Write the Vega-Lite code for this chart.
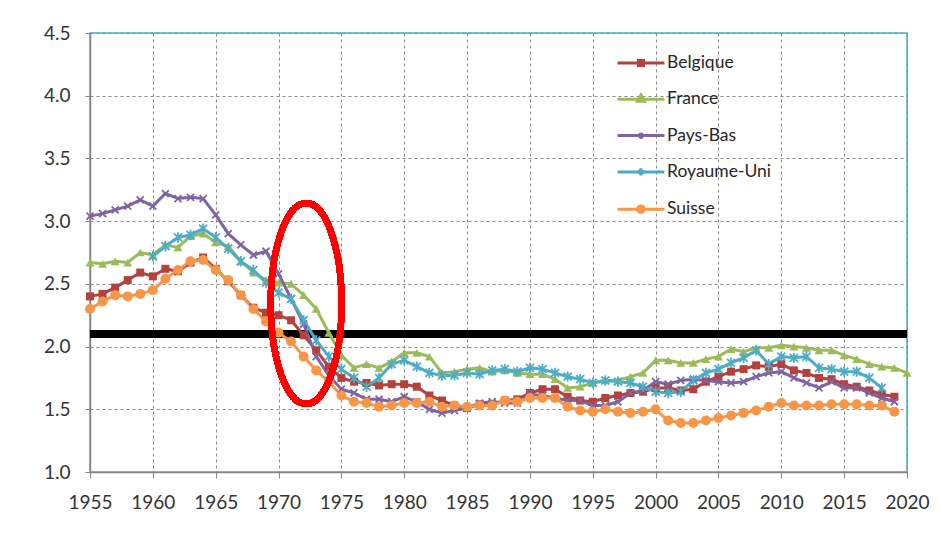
{
"$schema":"https://vega.github.io/schema/vega-lite/v6.json",
"width":817,"height":439,
"autosize":{"type":"none"},
"padding":{"left":90,"top":33,"right":33,"bottom":61},
"background":"white",
"config":{"font":"Lato","view":{"stroke":"#4BACC6","strokeWidth":1.5}},
"datasets":{"tfr":[
{"c":"Belgique","y":1955,"v":2.40},{"c":"Belgique","y":1956,"v":2.42},{"c":"Belgique","y":1957,"v":2.47},{"c":"Belgique","y":1958,"v":2.53},{"c":"Belgique","y":1959,"v":2.59},{"c":"Belgique","y":1960,"v":2.56},{"c":"Belgique","y":1961,"v":2.62},{"c":"Belgique","y":1962,"v":2.60},{"c":"Belgique","y":1963,"v":2.67},{"c":"Belgique","y":1964,"v":2.71},
{"c":"Belgique","y":1965,"v":2.62},{"c":"Belgique","y":1966,"v":2.52},{"c":"Belgique","y":1967,"v":2.41},{"c":"Belgique","y":1968,"v":2.31},{"c":"Belgique","y":1969,"v":2.27},{"c":"Belgique","y":1970,"v":2.25},{"c":"Belgique","y":1971,"v":2.21},{"c":"Belgique","y":1972,"v":2.09},{"c":"Belgique","y":1973,"v":1.97},{"c":"Belgique","y":1974,"v":1.84},
{"c":"Belgique","y":1975,"v":1.75},{"c":"Belgique","y":1976,"v":1.72},{"c":"Belgique","y":1977,"v":1.71},{"c":"Belgique","y":1978,"v":1.69},{"c":"Belgique","y":1979,"v":1.70},{"c":"Belgique","y":1980,"v":1.70},{"c":"Belgique","y":1981,"v":1.68},{"c":"Belgique","y":1982,"v":1.61},{"c":"Belgique","y":1983,"v":1.57},{"c":"Belgique","y":1984,"v":1.53},
{"c":"Belgique","y":1985,"v":1.51},{"c":"Belgique","y":1986,"v":1.54},{"c":"Belgique","y":1987,"v":1.54},{"c":"Belgique","y":1988,"v":1.57},{"c":"Belgique","y":1989,"v":1.58},{"c":"Belgique","y":1990,"v":1.63},{"c":"Belgique","y":1991,"v":1.66},{"c":"Belgique","y":1992,"v":1.66},{"c":"Belgique","y":1993,"v":1.60},{"c":"Belgique","y":1994,"v":1.57},
{"c":"Belgique","y":1995,"v":1.56},{"c":"Belgique","y":1996,"v":1.59},{"c":"Belgique","y":1997,"v":1.61},{"c":"Belgique","y":1998,"v":1.63},{"c":"Belgique","y":1999,"v":1.64},{"c":"Belgique","y":2000,"v":1.67},{"c":"Belgique","y":2001,"v":1.67},{"c":"Belgique","y":2002,"v":1.65},{"c":"Belgique","y":2003,"v":1.66},{"c":"Belgique","y":2004,"v":1.72},
{"c":"Belgique","y":2005,"v":1.76},{"c":"Belgique","y":2006,"v":1.80},{"c":"Belgique","y":2007,"v":1.82},{"c":"Belgique","y":2008,"v":1.85},{"c":"Belgique","y":2009,"v":1.84},{"c":"Belgique","y":2010,"v":1.86},{"c":"Belgique","y":2011,"v":1.81},{"c":"Belgique","y":2012,"v":1.79},{"c":"Belgique","y":2013,"v":1.75},{"c":"Belgique","y":2014,"v":1.74},
{"c":"Belgique","y":2015,"v":1.70},{"c":"Belgique","y":2016,"v":1.68},{"c":"Belgique","y":2017,"v":1.65},{"c":"Belgique","y":2018,"v":1.62},{"c":"Belgique","y":2019,"v":1.60},
{"c":"France","y":1955,"v":2.67},{"c":"France","y":1956,"v":2.66},{"c":"France","y":1957,"v":2.68},{"c":"France","y":1958,"v":2.67},{"c":"France","y":1959,"v":2.75},{"c":"France","y":1960,"v":2.73},{"c":"France","y":1961,"v":2.81},{"c":"France","y":1962,"v":2.79},{"c":"France","y":1963,"v":2.88},{"c":"France","y":1964,"v":2.90},
{"c":"France","y":1965,"v":2.83},{"c":"France","y":1966,"v":2.80},{"c":"France","y":1967,"v":2.68},{"c":"France","y":1968,"v":2.59},{"c":"France","y":1969,"v":2.53},{"c":"France","y":1970,"v":2.51},{"c":"France","y":1971,"v":2.50},{"c":"France","y":1972,"v":2.41},{"c":"France","y":1973,"v":2.30},{"c":"France","y":1974,"v":2.11},
{"c":"France","y":1975,"v":1.93},{"c":"France","y":1976,"v":1.83},{"c":"France","y":1977,"v":1.86},{"c":"France","y":1978,"v":1.83},{"c":"France","y":1979,"v":1.88},{"c":"France","y":1980,"v":1.95},{"c":"France","y":1981,"v":1.95},{"c":"France","y":1982,"v":1.92},{"c":"France","y":1983,"v":1.79},{"c":"France","y":1984,"v":1.80},
{"c":"France","y":1985,"v":1.82},{"c":"France","y":1986,"v":1.83},{"c":"France","y":1987,"v":1.80},{"c":"France","y":1988,"v":1.81},{"c":"France","y":1989,"v":1.79},{"c":"France","y":1990,"v":1.78},{"c":"France","y":1991,"v":1.78},{"c":"France","y":1992,"v":1.74},{"c":"France","y":1993,"v":1.67},{"c":"France","y":1994,"v":1.68},
{"c":"France","y":1995,"v":1.71},{"c":"France","y":1996,"v":1.73},{"c":"France","y":1997,"v":1.73},{"c":"France","y":1998,"v":1.76},{"c":"France","y":1999,"v":1.79},{"c":"France","y":2000,"v":1.89},{"c":"France","y":2001,"v":1.89},{"c":"France","y":2002,"v":1.87},{"c":"France","y":2003,"v":1.87},{"c":"France","y":2004,"v":1.90},
{"c":"France","y":2005,"v":1.92},{"c":"France","y":2006,"v":1.98},{"c":"France","y":2007,"v":1.96},{"c":"France","y":2008,"v":1.99},{"c":"France","y":2009,"v":1.99},{"c":"France","y":2010,"v":2.01},{"c":"France","y":2011,"v":2.00},{"c":"France","y":2012,"v":1.99},{"c":"France","y":2013,"v":1.97},{"c":"France","y":2014,"v":1.97},
{"c":"France","y":2015,"v":1.93},{"c":"France","y":2016,"v":1.90},{"c":"France","y":2017,"v":1.86},{"c":"France","y":2018,"v":1.84},{"c":"France","y":2019,"v":1.83},{"c":"France","y":2020,"v":1.79},
{"c":"Pays-Bas","y":1955,"v":3.04},{"c":"Pays-Bas","y":1956,"v":3.06},{"c":"Pays-Bas","y":1957,"v":3.09},{"c":"Pays-Bas","y":1958,"v":3.12},{"c":"Pays-Bas","y":1959,"v":3.17},{"c":"Pays-Bas","y":1960,"v":3.12},{"c":"Pays-Bas","y":1961,"v":3.22},{"c":"Pays-Bas","y":1962,"v":3.18},{"c":"Pays-Bas","y":1963,"v":3.19},{"c":"Pays-Bas","y":1964,"v":3.18},
{"c":"Pays-Bas","y":1965,"v":3.05},{"c":"Pays-Bas","y":1966,"v":2.90},{"c":"Pays-Bas","y":1967,"v":2.81},{"c":"Pays-Bas","y":1968,"v":2.73},{"c":"Pays-Bas","y":1969,"v":2.76},{"c":"Pays-Bas","y":1970,"v":2.58},{"c":"Pays-Bas","y":1971,"v":2.38},{"c":"Pays-Bas","y":1972,"v":2.18},{"c":"Pays-Bas","y":1973,"v":1.92},{"c":"Pays-Bas","y":1974,"v":1.77},
{"c":"Pays-Bas","y":1975,"v":1.66},{"c":"Pays-Bas","y":1976,"v":1.63},{"c":"Pays-Bas","y":1977,"v":1.58},{"c":"Pays-Bas","y":1978,"v":1.58},{"c":"Pays-Bas","y":1979,"v":1.56},{"c":"Pays-Bas","y":1980,"v":1.60},{"c":"Pays-Bas","y":1981,"v":1.56},{"c":"Pays-Bas","y":1982,"v":1.50},{"c":"Pays-Bas","y":1983,"v":1.47},{"c":"Pays-Bas","y":1984,"v":1.49},
{"c":"Pays-Bas","y":1985,"v":1.51},{"c":"Pays-Bas","y":1986,"v":1.55},{"c":"Pays-Bas","y":1987,"v":1.56},{"c":"Pays-Bas","y":1988,"v":1.55},{"c":"Pays-Bas","y":1989,"v":1.55},{"c":"Pays-Bas","y":1990,"v":1.62},{"c":"Pays-Bas","y":1991,"v":1.61},{"c":"Pays-Bas","y":1992,"v":1.59},{"c":"Pays-Bas","y":1993,"v":1.57},{"c":"Pays-Bas","y":1994,"v":1.57},
{"c":"Pays-Bas","y":1995,"v":1.53},{"c":"Pays-Bas","y":1996,"v":1.53},{"c":"Pays-Bas","y":1997,"v":1.56},{"c":"Pays-Bas","y":1998,"v":1.63},{"c":"Pays-Bas","y":1999,"v":1.65},{"c":"Pays-Bas","y":2000,"v":1.72},{"c":"Pays-Bas","y":2001,"v":1.70},{"c":"Pays-Bas","y":2002,"v":1.73},{"c":"Pays-Bas","y":2003,"v":1.74},{"c":"Pays-Bas","y":2004,"v":1.73},
{"c":"Pays-Bas","y":2005,"v":1.72},{"c":"Pays-Bas","y":2006,"v":1.71},{"c":"Pays-Bas","y":2007,"v":1.72},{"c":"Pays-Bas","y":2008,"v":1.76},{"c":"Pays-Bas","y":2009,"v":1.79},{"c":"Pays-Bas","y":2010,"v":1.80},{"c":"Pays-Bas","y":2011,"v":1.75},{"c":"Pays-Bas","y":2012,"v":1.71},{"c":"Pays-Bas","y":2013,"v":1.67},{"c":"Pays-Bas","y":2014,"v":1.72},
{"c":"Pays-Bas","y":2015,"v":1.67},{"c":"Pays-Bas","y":2016,"v":1.67},{"c":"Pays-Bas","y":2017,"v":1.63},{"c":"Pays-Bas","y":2018,"v":1.59},{"c":"Pays-Bas","y":2019,"v":1.56},
{"c":"Royaume-Uni","y":1960,"v":2.72},{"c":"Royaume-Uni","y":1961,"v":2.80},{"c":"Royaume-Uni","y":1962,"v":2.87},{"c":"Royaume-Uni","y":1963,"v":2.89},{"c":"Royaume-Uni","y":1964,"v":2.94},
{"c":"Royaume-Uni","y":1965,"v":2.87},{"c":"Royaume-Uni","y":1966,"v":2.78},{"c":"Royaume-Uni","y":1967,"v":2.68},{"c":"Royaume-Uni","y":1968,"v":2.61},{"c":"Royaume-Uni","y":1969,"v":2.51},{"c":"Royaume-Uni","y":1970,"v":2.43},{"c":"Royaume-Uni","y":1971,"v":2.38},{"c":"Royaume-Uni","y":1972,"v":2.21},{"c":"Royaume-Uni","y":1973,"v":2.05},{"c":"Royaume-Uni","y":1974,"v":1.92},
{"c":"Royaume-Uni","y":1975,"v":1.82},{"c":"Royaume-Uni","y":1976,"v":1.75},{"c":"Royaume-Uni","y":1977,"v":1.68},{"c":"Royaume-Uni","y":1978,"v":1.75},{"c":"Royaume-Uni","y":1979,"v":1.86},{"c":"Royaume-Uni","y":1980,"v":1.89},{"c":"Royaume-Uni","y":1981,"v":1.84},{"c":"Royaume-Uni","y":1982,"v":1.79},{"c":"Royaume-Uni","y":1983,"v":1.77},{"c":"Royaume-Uni","y":1984,"v":1.77},
{"c":"Royaume-Uni","y":1985,"v":1.79},{"c":"Royaume-Uni","y":1986,"v":1.78},{"c":"Royaume-Uni","y":1987,"v":1.81},{"c":"Royaume-Uni","y":1988,"v":1.82},{"c":"Royaume-Uni","y":1989,"v":1.80},{"c":"Royaume-Uni","y":1990,"v":1.83},{"c":"Royaume-Uni","y":1991,"v":1.82},{"c":"Royaume-Uni","y":1992,"v":1.79},{"c":"Royaume-Uni","y":1993,"v":1.76},{"c":"Royaume-Uni","y":1994,"v":1.74},
{"c":"Royaume-Uni","y":1995,"v":1.71},{"c":"Royaume-Uni","y":1996,"v":1.73},{"c":"Royaume-Uni","y":1997,"v":1.72},{"c":"Royaume-Uni","y":1998,"v":1.71},{"c":"Royaume-Uni","y":1999,"v":1.68},{"c":"Royaume-Uni","y":2000,"v":1.64},{"c":"Royaume-Uni","y":2001,"v":1.63},{"c":"Royaume-Uni","y":2002,"v":1.64},{"c":"Royaume-Uni","y":2003,"v":1.73},{"c":"Royaume-Uni","y":2004,"v":1.79},
{"c":"Royaume-Uni","y":2005,"v":1.82},{"c":"Royaume-Uni","y":2006,"v":1.87},{"c":"Royaume-Uni","y":2007,"v":1.91},{"c":"Royaume-Uni","y":2008,"v":1.97},{"c":"Royaume-Uni","y":2009,"v":1.86},{"c":"Royaume-Uni","y":2010,"v":1.92},{"c":"Royaume-Uni","y":2011,"v":1.91},{"c":"Royaume-Uni","y":2012,"v":1.92},{"c":"Royaume-Uni","y":2013,"v":1.83},{"c":"Royaume-Uni","y":2014,"v":1.82},
{"c":"Royaume-Uni","y":2015,"v":1.80},{"c":"Royaume-Uni","y":2016,"v":1.80},{"c":"Royaume-Uni","y":2017,"v":1.75},{"c":"Royaume-Uni","y":2018,"v":1.67},
{"c":"Suisse","y":1955,"v":2.30},{"c":"Suisse","y":1956,"v":2.36},{"c":"Suisse","y":1957,"v":2.41},{"c":"Suisse","y":1958,"v":2.40},{"c":"Suisse","y":1959,"v":2.42},{"c":"Suisse","y":1960,"v":2.45},{"c":"Suisse","y":1961,"v":2.54},{"c":"Suisse","y":1962,"v":2.61},{"c":"Suisse","y":1963,"v":2.68},{"c":"Suisse","y":1964,"v":2.69},
{"c":"Suisse","y":1965,"v":2.61},{"c":"Suisse","y":1966,"v":2.53},{"c":"Suisse","y":1967,"v":2.41},{"c":"Suisse","y":1968,"v":2.30},{"c":"Suisse","y":1969,"v":2.20},{"c":"Suisse","y":1970,"v":2.11},{"c":"Suisse","y":1971,"v":2.04},{"c":"Suisse","y":1972,"v":1.92},{"c":"Suisse","y":1973,"v":1.81},{"c":"Suisse","y":1974,"v":1.72},
{"c":"Suisse","y":1975,"v":1.61},{"c":"Suisse","y":1976,"v":1.56},{"c":"Suisse","y":1977,"v":1.55},{"c":"Suisse","y":1978,"v":1.52},{"c":"Suisse","y":1979,"v":1.53},{"c":"Suisse","y":1980,"v":1.55},{"c":"Suisse","y":1981,"v":1.55},{"c":"Suisse","y":1982,"v":1.56},{"c":"Suisse","y":1983,"v":1.52},{"c":"Suisse","y":1984,"v":1.53},
{"c":"Suisse","y":1985,"v":1.52},{"c":"Suisse","y":1986,"v":1.53},{"c":"Suisse","y":1987,"v":1.53},{"c":"Suisse","y":1988,"v":1.57},{"c":"Suisse","y":1989,"v":1.56},{"c":"Suisse","y":1990,"v":1.59},{"c":"Suisse","y":1991,"v":1.59},{"c":"Suisse","y":1992,"v":1.59},{"c":"Suisse","y":1993,"v":1.52},{"c":"Suisse","y":1994,"v":1.49},
{"c":"Suisse","y":1995,"v":1.48},{"c":"Suisse","y":1996,"v":1.50},{"c":"Suisse","y":1997,"v":1.48},{"c":"Suisse","y":1998,"v":1.47},{"c":"Suisse","y":1999,"v":1.48},{"c":"Suisse","y":2000,"v":1.50},{"c":"Suisse","y":2001,"v":1.41},{"c":"Suisse","y":2002,"v":1.39},{"c":"Suisse","y":2003,"v":1.39},{"c":"Suisse","y":2004,"v":1.41},
{"c":"Suisse","y":2005,"v":1.43},{"c":"Suisse","y":2006,"v":1.45},{"c":"Suisse","y":2007,"v":1.47},{"c":"Suisse","y":2008,"v":1.49},{"c":"Suisse","y":2009,"v":1.52},{"c":"Suisse","y":2010,"v":1.55},{"c":"Suisse","y":2011,"v":1.53},{"c":"Suisse","y":2012,"v":1.53},{"c":"Suisse","y":2013,"v":1.53},{"c":"Suisse","y":2014,"v":1.54},
{"c":"Suisse","y":2015,"v":1.54},{"c":"Suisse","y":2016,"v":1.54},{"c":"Suisse","y":2017,"v":1.53},{"c":"Suisse","y":2018,"v":1.53},{"c":"Suisse","y":2019,"v":1.48}
]},
"data":{"name":"tfr"},
"encoding":{
 "x":{"field":"y","type":"quantitative","scale":{"domain":[1955,2020],"nice":false,"zero":false},
  "axis":{"title":null,"values":[1955,1960,1965,1970,1975,1980,1985,1990,1995,2000,2005,2010,2015,2020],"format":"d","labelFontSize":19,"labelColor":"#333333","labelPadding":15,"tickSize":6,"tickColor":"#868686","domainColor":"#868686","domainWidth":1.5,"grid":true,"gridDash":[3,3],"gridColor":"#8a8a8a","gridWidth":1,"labelFlush":false}},
 "y":{"field":"v","type":"quantitative","scale":{"domain":[1,4.5],"nice":false,"zero":false},
  "axis":{"title":null,"values":[1,1.5,2,2.5,3,3.5,4,4.5],"format":".1f","labelFontSize":19,"labelColor":"#333333","labelPadding":15,"tickSize":5,"tickColor":"#868686","domainColor":"#868686","domainWidth":1.5,"grid":true,"gridDash":[3,3],"gridColor":"#8a8a8a","gridWidth":1,"labelFlush":false}}
},
"layer":[
 {"mark":{"type":"rule","color":"black","strokeWidth":7},"encoding":{"y":{"datum":2.1},"x":null}},
 {"mark":{"type":"line","strokeWidth":3},
  "encoding":{"color":{"field":"c","type":"nominal","scale":{"range":["#B3413E","#9BBB59","#8064A2","#4BACC6","#F79646"]},"legend":null}}},
 {"transform":[{"filter":"datum.c == 'Belgique'"}],"mark":{"type":"point","shape":"square","filled":true,"size":64,"opacity":1,"color":"#B3413E"}},
 {"transform":[{"filter":"datum.c == 'France'"}],"mark":{"type":"point","shape":"triangle-up","filled":true,"size":80,"opacity":1,"color":"#9BBB59"}},
 {"transform":[{"filter":"datum.c == 'Pays-Bas'"}],"mark":{"type":"point","shape":"M-1,-1L1,1M1,-1L-1,1","filled":false,"size":49,"strokeWidth":1.8,"opacity":1,"color":"#8064A2"}},
 {"transform":[{"filter":"datum.c == 'Royaume-Uni'"}],"mark":{"type":"point","shape":"M-1,-1L1,1M1,-1L-1,1M0,-1.3V1.3","filled":false,"size":64,"strokeWidth":1.8,"opacity":1,"color":"#4BACC6"}},
 {"transform":[{"filter":"datum.c == 'Suisse'"}],"mark":{"type":"point","shape":"circle","filled":true,"size":100,"opacity":1,"color":"#F79646"}},
 {"transform":[{"filter":"datum.y < 0"}],"mark":{"type":"point","filled":true,"size":353,"strokeWidth":3},
  "encoding":{
   "fill":{"field":"c","type":"nominal","scale":{"domain":["Belgique","France","Pays-Bas","Royaume-Uni","Suisse"],"range":["#B3413E","#9BBB59","#8064A2","#4BACC6","#F79646"]},
    "legend":{"orient":"none","legendX":540,"legendY":19,"title":null,"labelFontSize":17.5,"labelColor":"#262626","labelOffset":15,"rowPadding":16.3,"padding":0,"symbolSize":353,"symbolStrokeWidth":3,"symbolFillColor":"#000000","symbolStrokeColor":"#000000","symbolOpacity":1}},
   "stroke":{"field":"c","type":"nominal","scale":{"domain":["Belgique","France","Pays-Bas","Royaume-Uni","Suisse"],"range":["#B3413E","#9BBB59","#8064A2","#4BACC6","#F79646"]},
    "legend":{"orient":"none","legendX":540,"legendY":19,"title":null,"labelFontSize":17.5,"labelColor":"#262626","labelOffset":15,"rowPadding":16.3,"padding":0,"symbolSize":353,"symbolStrokeWidth":3,"symbolFillColor":"#000000","symbolStrokeColor":"#000000","symbolOpacity":1}},
   "shape":{"field":"c","type":"nominal","scale":{"domain":["Belgique","France","Pays-Bas","Royaume-Uni","Suisse"],"range":[
     "M-2.5,0H2.5M-0.27,-0.27H0.27V0.27H-0.27Z",
     "M-2.5,0H2.5M0,-0.45L0.38,0.22H-0.38Z",
     "M-2.5,0H2.5M-0.2,-0.25L0.2,0.25M0.2,-0.25L-0.2,0.25",
     "M-2.5,0H2.5M-0.22,-0.25L0.22,0.25M0.22,-0.25L-0.22,0.25M0,-0.38V0.38",
     "M-2.5,0H2.5M0.35,0A0.35,0.35,0,1,1,-0.35,0A0.35,0.35,0,1,1,0.35,0Z"]},
    "legend":{"orient":"none","legendX":540,"legendY":19,"title":null,"labelFontSize":17.5,"labelColor":"#262626","labelOffset":15,"rowPadding":16.3,"padding":0,"symbolSize":353,"symbolStrokeWidth":3,"symbolFillColor":"#000000","symbolStrokeColor":"#000000","symbolOpacity":1}}
  }},
 {"mark":{"type":"point","shape":"M0,-1C0.195,-1,0.353,-0.552,0.353,0C0.353,0.552,0.195,1,0,1C-0.195,1,-0.353,0.552,-0.353,0C-0.353,-0.552,-0.195,-1,0,-1Z","size":40401,"filled":false,"stroke":"#FF0000","strokeWidth":6,"opacity":1},
  "encoding":{"x":{"datum":1972.2},"y":{"datum":2.343}}}
]
}
